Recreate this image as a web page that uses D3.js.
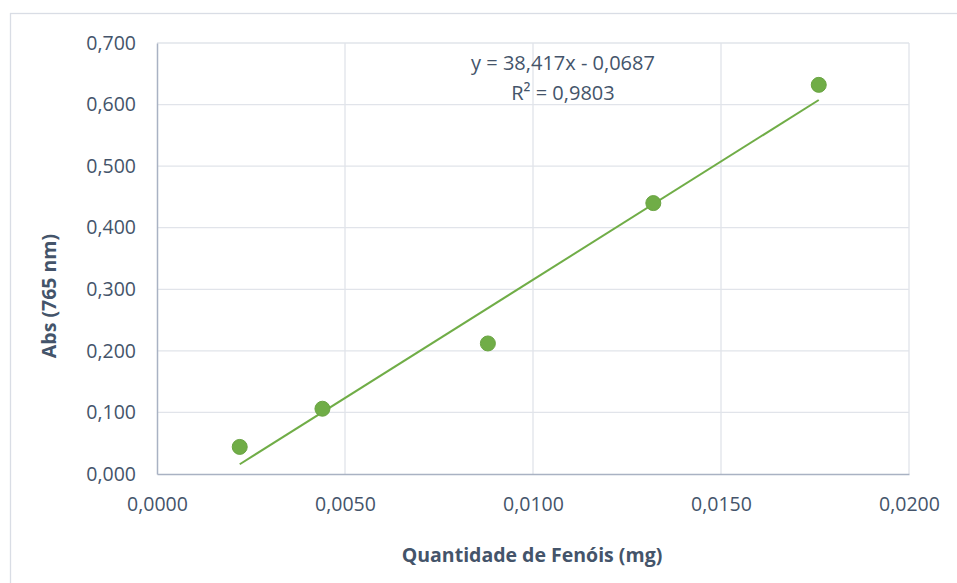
<!DOCTYPE html>
<html lang="pt">
<head>
    <meta charset="UTF-8">
    <title>Curva de calibração</title>
    <style>
        body { margin: 0; background: #fff; }
        .tick text { font-family: "Open Sans", sans-serif; font-size: 19.5px; fill: #44546a; }
        .grid line { stroke: #e1e4ea; stroke-width: 1.3; }
        .axis-title { font-family: "Open Sans", sans-serif; font-size: 19.5px; font-weight: bold; fill: #44546a; }
        .eq { font-family: "Open Sans", sans-serif; font-size: 20px; fill: #44546a; }
    </style>
    <script src="https://d3js.org/d3.v7.min.js"></script>
</head>
<body>
    <svg width="957" height="583"></svg>
    <script>
        const quantidade = [0.0022, 0.0044, 0.0088, 0.0132, 0.0176];
        const absorbancia = [0.044, 0.106, 0.212, 0.440, 0.632];
        const xTicks = [0, 0.005, 0.010, 0.015, 0.020];
        const yTicks = [0, 0.1, 0.2, 0.3, 0.4, 0.5, 0.6, 0.7];
        const slope = 38.417;
        const intercept = -0.0687;
        const equationLines = ["y = 38,417x - 0,0687", "R² = 0,9803"];

        const width = 957;
        const height = 583;
        const plot = { left: 157, right: 909, top: 43, bottom: 474 };

        const svg = d3.select("svg");

        // chart frame (runs off the right and bottom edges of the picture)
        svg.append("rect")
            .attr("x", 10.5).attr("y", 13.5)
            .attr("width", 960).attr("height", 600)
            .attr("fill", "#fff")
            .attr("stroke", "#d9dde5")
            .attr("stroke-width", 1.3);

        const x = d3.scaleLinear().domain([0, 0.02]).range([plot.left, plot.right]);
        const y = d3.scaleLinear().domain([0, 0.7]).range([plot.bottom, plot.top]);
        const fmt = d => d.toFixed(3).replace(".", ",");
        const fmtX = d => d.toFixed(4).replace(".", ",");

        // gridlines
        svg.append("g").attr("class", "grid")
            .selectAll("line").data(yTicks.slice(1)).enter().append("line")
            .attr("x1", plot.left).attr("x2", plot.right)
            .attr("y1", d => y(d)).attr("y2", d => y(d));
        svg.append("g").attr("class", "grid")
            .selectAll("line").data(xTicks.slice(1)).enter().append("line")
            .attr("x1", d => x(d)).attr("x2", d => x(d))
            .attr("y1", plot.top).attr("y2", plot.bottom);

        // axes
        const yAxis = svg.append("g")
            .attr("transform", `translate(${plot.left},0)`)
            .call(d3.axisLeft(y).tickValues(yTicks).tickFormat(fmt).tickSize(0).tickPadding(21));
        yAxis.select(".domain").attr("stroke", "#a9b2c3").attr("stroke-width", 1.5);

        const xAxis = svg.append("g")
            .attr("transform", `translate(0,${plot.bottom})`)
            .call(d3.axisBottom(x).tickValues(xTicks).tickFormat(fmtX).tickSize(0).tickPadding(23));
        xAxis.select(".domain").attr("stroke", "#a9b2c3").attr("stroke-width", 1.5);

        // trendline
        const xmin = d3.min(quantidade), xmax = d3.max(quantidade);
        svg.append("line")
            .attr("x1", x(xmin)).attr("y1", y(slope * xmin + intercept))
            .attr("x2", x(xmax)).attr("y2", y(slope * xmax + intercept))
            .attr("stroke", "#70ad47")
            .attr("stroke-width", 2);

        // points
        svg.append("g")
            .selectAll("circle")
            .data(quantidade.map((q, i) => ({ q, a: absorbancia[i] })))
            .enter().append("circle")
            .attr("cx", d => x(d.q))
            .attr("cy", d => y(d.a))
            .attr("r", 7.5)
            .attr("fill", "#70ad47")
            .attr("stroke", "#6aa443")
            .attr("stroke-width", 1);

        // equation label
        svg.append("g")
            .selectAll("text").data(equationLines).enter().append("text")
            .attr("class", "eq")
            .attr("x", 563)
            .attr("y", (d, i) => 70 + i * 30)
            .attr("text-anchor", "middle")
            .text(d => d);

        // axis titles
        svg.append("text")
            .attr("class", "axis-title")
            .attr("x", 532)
            .attr("y", 562)
            .attr("text-anchor", "middle")
            .text("Quantidade de Fenóis (mg)");

        svg.append("text")
            .attr("class", "axis-title")
            .attr("transform", `translate(56,296) rotate(-90)`)
            .attr("text-anchor", "middle")
            .text("Abs (765 nm)");
    </script>
</body>
</html>
